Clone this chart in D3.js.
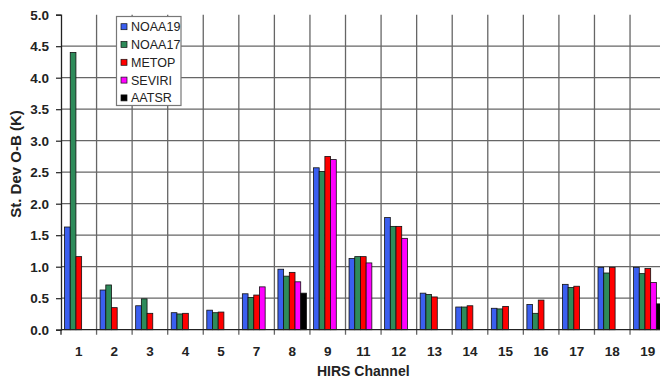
<!DOCTYPE html>
<html>
<head>
<meta charset="utf-8">
<script src="https://cdn.jsdelivr.net/npm/d3@7/dist/d3.min.js"></script>
<style>
  html, body { margin: 0; padding: 0; background: #fff; }
  svg { display: block; font-family: "Liberation Sans", Arial, sans-serif; }
</style>
</head>
<body>
<svg id="chart" width="660" height="381"></svg>
<script>
// HIRS channels shown on the x axis
const channels = ["1", "2", "3", "4", "5", "7", "8", "9", "11", "12", "13", "14", "15", "16", "17", "18", "19"];

// Standard deviation of O-B (K) per instrument, one value per channel (null = not available)
const noaa19 = [1.63, 0.63, 0.38, 0.27, 0.31, 0.57, 0.96, 2.57, 1.13, 1.78, 0.58, 0.36, 0.34, 0.40, 0.72, 0.99, 0.99];
const noaa17 = [4.40, 0.71, 0.49, 0.25, 0.27, 0.51, 0.85, 2.51, 1.16, 1.64, 0.56, 0.36, 0.33, 0.26, 0.67, 0.90, 0.89];
const metop  = [1.16, 0.35, 0.26, 0.26, 0.28, 0.55, 0.91, 2.75, 1.16, 1.64, 0.52, 0.38, 0.37, 0.47, 0.69, 0.99, 0.97];
const seviri = [null, null, null, null, null, 0.68, 0.76, 2.70, 1.06, 1.45, null, null, null, null, null, null, 0.75];
const aatsr  = [null, null, null, null, null, null, 0.58, null, null, null, null, null, null, null, null, null, 0.41];

const seriesNames = ["NOAA19", "NOAA17", "METOP", "SEVIRI", "AATSR"];
const seriesValues = [noaa19, noaa17, metop, seviri, aatsr];
const seriesColors = ["#3b5ff0", "#2e8b5a", "#ff0000", "#ff00ff", "#000000"];

const yTicks = [0, 0.5, 1.0, 1.5, 2.0, 2.5, 3.0, 3.5, 4.0, 4.5, 5.0];

const svg = d3.select("#chart");
const plot = { left: 61, right: 665.6, top: 14.7, bottom: 329.7 };

const x = d3.scaleBand().domain(channels).range([plot.left, plot.right]).paddingInner(0).paddingOuter(0);
const xs = d3.scaleBand().domain(seriesNames).range([0, x.step()]).paddingInner(0).paddingOuter(0.62);
const y = d3.scaleLinear().domain([0, 5]).range([plot.bottom, plot.top]);

const gridColor = "#666";

// horizontal grid lines (no line at the top value)
svg.append("g")
  .selectAll("line")
  .data(yTicks.filter(t => t > 0 && t < 5))
  .join("line")
  .attr("x1", plot.left).attr("x2", plot.right)
  .attr("y1", d => y(d)).attr("y2", d => y(d))
  .attr("stroke", gridColor).attr("stroke-width", 1.3);

// vertical grid lines at category boundaries, extending below the axis as ticks
const bounds = channels.map(c => x(c)).concat([plot.right]).slice(1);
svg.append("g")
  .selectAll("line")
  .data(bounds)
  .join("line")
  .attr("x1", d => d).attr("x2", d => d)
  .attr("y1", plot.top).attr("y2", plot.bottom + 5)
  .attr("stroke", gridColor).attr("stroke-width", 1.3);

// bars
const rows = [];
seriesNames.forEach((s, si) => {
  channels.forEach((c, ci) => {
    const v = seriesValues[si][ci];
    if (v !== null) rows.push({ channel: c, series: s, value: v, color: seriesColors[si] });
  });
});

svg.append("g")
  .selectAll("rect")
  .data(rows)
  .join("rect")
  .attr("x", d => x(d.channel) + xs(d.series))
  .attr("y", d => y(d.value))
  .attr("width", xs.bandwidth())
  .attr("height", d => y(0) - y(d.value))
  .attr("fill", d => d.color)
  .attr("stroke", "#111")
  .attr("stroke-width", 0.8);

// y axis
const yAxis = d3.axisLeft(y).tickValues(yTicks).tickFormat(d3.format(".1f")).tickSize(5).tickPadding(7);
const gy = svg.append("g").attr("transform", `translate(${plot.left},0)`).call(yAxis);
gy.select(".domain").attr("stroke", "#222").attr("stroke-width", 1.3);
gy.selectAll(".tick line").attr("stroke", "#222").attr("stroke-width", 1.2);
gy.selectAll(".tick text")
  .attr("font-family", "Liberation Sans, Arial, sans-serif")
  .attr("font-size", 13.5).attr("font-weight", "bold").attr("fill", "#222");

// x axis line
svg.append("line")
  .attr("x1", plot.left).attr("x2", plot.right)
  .attr("y1", plot.bottom).attr("y2", plot.bottom)
  .attr("stroke", "#222").attr("stroke-width", 1.3);
svg.append("line")
  .attr("x1", plot.left).attr("x2", plot.left)
  .attr("y1", plot.bottom).attr("y2", plot.bottom + 5)
  .attr("stroke", "#222").attr("stroke-width", 1.3);

// x tick labels
svg.append("g")
  .selectAll("text")
  .data(channels)
  .join("text")
  .attr("x", d => x(d) + x.bandwidth() / 2)
  .attr("y", 356)
  .attr("text-anchor", "middle")
  .attr("font-size", 13.5).attr("font-weight", "bold").attr("fill", "#222")
  .text(d => d);

// axis titles
svg.append("text")
  .attr("x", (plot.left + plot.right) / 2)
  .attr("y", 375.5)
  .attr("text-anchor", "middle")
  .attr("font-size", 14).attr("font-weight", "bold").attr("fill", "#222")
  .text("HIRS Channel");

svg.append("text")
  .attr("transform", `translate(21,164) rotate(-90)`)
  .attr("text-anchor", "middle")
  .attr("font-size", 15).attr("font-weight", "bold").attr("fill", "#222")
  .text("St. Dev O-B (K)");

// legend
const legend = svg.append("g");
legend.append("rect")
  .attr("x", 116.5).attr("y", 16.5).attr("width", 64.5).attr("height", 89)
  .attr("fill", "#fff").attr("stroke", "#777").attr("stroke-width", 1.2);
const items = legend.selectAll("g.item")
  .data(seriesNames)
  .join("g")
  .attr("class", "item")
  .attr("transform", (d, i) => `translate(121,${26.7 + i * 17.8})`);
items.append("rect")
  .attr("x", 0).attr("y", -3).attr("width", 6).attr("height", 6)
  .attr("fill", (d, i) => seriesColors[i])
  .attr("stroke", "#111").attr("stroke-width", 0.7);
items.append("text")
  .attr("x", 10).attr("y", 4.5)
  .attr("font-size", 12.5).attr("fill", "#222")
  .text(d => d);
</script>
</body>
</html>
